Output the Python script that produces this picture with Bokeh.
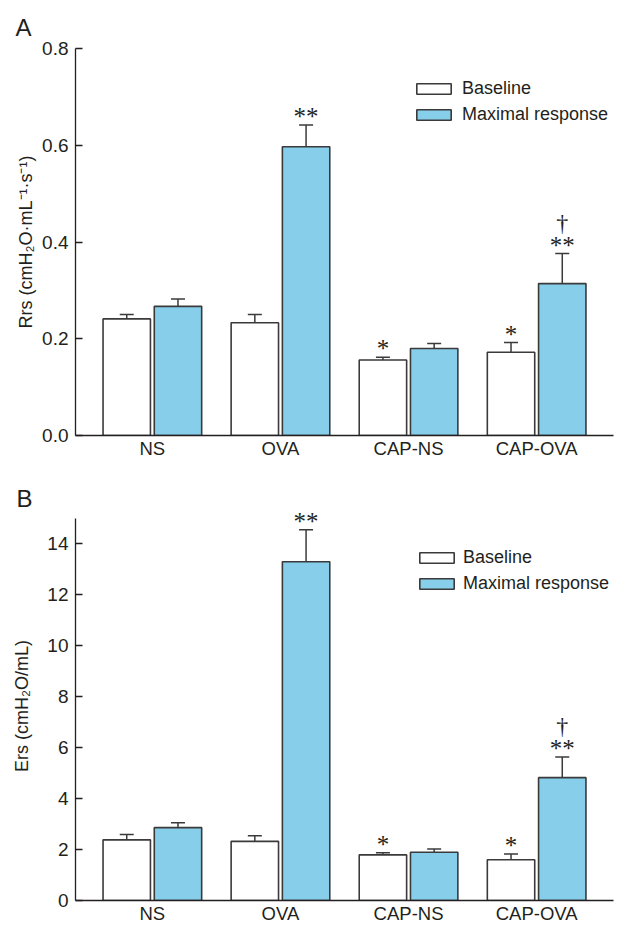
from bokeh.plotting import figure
from bokeh.layouts import column
from bokeh.models import (ColumnDataSource, FactorRange, FixedTicker, Whisker, TeeHead,
                          LabelSet, Legend, LegendItem, Range1d, PrintfTickFormatter)
from bokeh.transform import dodge
from bokeh.embed import file_html
from bokeh.resources import INLINE

# ---------------- data ----------------
groups = ["NS", "OVA", "CAP-NS", "CAP-OVA"]
series_names = ["Baseline", "Maximal response"]

rrs_baseline = [0.241, 0.233, 0.156, 0.172]
rrs_baseline_sem = [0.009, 0.017, 0.006, 0.020]
rrs_maximal = [0.267, 0.597, 0.180, 0.314]
rrs_maximal_sem = [0.015, 0.045, 0.010, 0.062]

ers_baseline = [2.38, 2.32, 1.79, 1.60]
ers_baseline_sem = [0.21, 0.22, 0.08, 0.22]
ers_maximal = [2.86, 13.29, 1.89, 4.82]
ers_maximal_sem = [0.19, 1.25, 0.13, 0.81]

baseline_marks = ["", "", "*", "*"]
maximal_marks = ["", "**", "", "**"]
maximal_dagger = ["", "", "", "\u2020"]

rrs_ticks = [0.0, 0.2, 0.4, 0.6, 0.8]
ers_ticks = [0, 2, 4, 6, 8, 10, 12, 14]

FONT = "Liberation Sans"
INK = "#231f20"
EDGE = "#3a3a3a"
BLUE = "#87ceeb"


def make_panel(letter, ylabel, base, base_sem, maxv, max_sem, y_top, y_end, ticks, fmt,
               height, left, right, top, bottom, label_standoff,
               title_offset, title_standoff, legend_loc, legend_standoff):
    p = figure(x_range=FactorRange(*groups, range_padding=0.05),
               y_range=Range1d(0, y_end),
               width=620, height=height, output_backend="svg", toolbar_location=None,
               min_border_left=left, min_border_right=right, min_border_top=top,
               min_border_bottom=bottom, title=letter)
    p.title.align = "left"
    p.title.offset = title_offset
    p.title.standoff = title_standoff
    p.title.text_font = FONT
    p.title.text_font_size = "24px"
    p.title.text_font_style = "normal"
    p.title.text_color = INK

    src = ColumnDataSource(dict(
        cat=groups,
        base=base, base_up=[v + e for v, e in zip(base, base_sem)],
        maxv=maxv, max_up=[v + e for v, e in zip(maxv, max_sem)],
        bmark=baseline_marks, mmark=maximal_marks, dmark=maximal_dagger,
    ))

    xb = dodge("cat", -0.2, range=p.x_range)
    xm = dodge("cat", 0.2, range=p.x_range)

    for xs, lo, hi in ((xb, "base", "base_up"), (xm, "maxv", "max_up")):
        p.add_layout(Whisker(base=xs, lower=lo, upper=hi, source=src,
                             upper_head=TeeHead(size=14, line_color=EDGE, line_width=1.5),
                             lower_head=None, line_color=EDGE, line_width=1.5))

    rb = p.vbar(x=xb, top="base", width=0.37, source=src, fill_color="white",
                line_color=EDGE, line_width=1.6)
    rm = p.vbar(x=xm, top="maxv", width=0.37, source=src, fill_color=BLUE,
                line_color=EDGE, line_width=1.6)

    for xs, yy, txt, size, off in ((xb, "base_up", "bmark", "25px", 0),
                                   (xm, "max_up", "mmark", "25px", 0),
                                   (xm, "max_up", "dmark", "24px", 23)):
        p.add_layout(LabelSet(x=xs, y=yy, text=txt, source=src, y_offset=off,
                              text_align="center", text_baseline="alphabetic",
                              text_font=FONT, text_font_size=size, text_color=INK))

    legend = Legend(items=[LegendItem(label=series_names[0], renderers=[rb]),
                           LegendItem(label=series_names[1], renderers=[rm])],
                    location=legend_loc, padding=0, spacing=5, margin=0,
                    glyph_width=43, glyph_height=13, label_height=13,
                    label_standoff=legend_standoff,
                    label_text_font=FONT, label_text_font_size="18px",
                    label_text_color=INK, border_line_color=None,
                    background_fill_alpha=0)
    p.add_layout(legend)

    p.xgrid.visible = False
    p.ygrid.visible = False
    p.outline_line_color = None

    for ax in (p.xaxis[0], p.yaxis[0]):
        ax.axis_line_color = INK
        ax.axis_line_width = 1.3
        ax.major_tick_line_color = INK
        ax.major_tick_line_width = 1.3
        ax.minor_tick_line_color = None
        ax.major_label_text_font = FONT
        ax.major_label_text_color = INK

    p.xaxis.major_label_text_font_size = "18.5px"
    p.xaxis.major_tick_in = 0
    p.xaxis.major_tick_out = 0
    p.xaxis.major_label_standoff = 2

    p.yaxis.bounds = (0, y_top)
    p.yaxis.major_label_text_font_size = "19px"
    p.yaxis.ticker = FixedTicker(ticks=ticks)
    p.yaxis.formatter = PrintfTickFormatter(format=fmt)
    p.yaxis.major_tick_in = 7
    p.yaxis.major_tick_out = 0
    p.yaxis.major_label_standoff = 7
    p.yaxis.axis_label = ylabel
    p.yaxis.axis_label_standoff = label_standoff
    p.yaxis.axis_label_text_font = FONT
    p.yaxis.axis_label_text_font_size = "18px"
    p.yaxis.axis_label_text_font_style = "normal"
    p.yaxis.axis_label_text_color = INK
    return p


top_p = make_panel("A", "Rrs (cmH\u2082O\u00b7mL\u207b\u00b9\u00b7s\u207b\u00b9)",
                   rrs_baseline, rrs_baseline_sem, rrs_maximal, rrs_maximal_sem,
                   0.8, 0.8, rrs_ticks, "%.1f",
                   height=470, left=75, right=3, top=48, bottom=35,
                   label_standoff=3, title_offset=-60, title_standoff=16,
                   legend_loc=(337, 310), legend_standoff=7)

bot_p = make_panel("B", "Ers (cmH\u2082O/mL)",
                   ers_baseline, ers_baseline_sem, ers_maximal, ers_maximal_sem,
                   15, 15.26, ers_ticks, "%d",
                   height=456, left=72, right=7, top=41, bottom=23,
                   label_standoff=12, title_offset=-59, title_standoff=0,
                   legend_loc=(340, 306), legend_standoff=5)

layout = column(top_p, bot_p, spacing=0)
open("out.html", "w").write(file_html(layout, INLINE))
